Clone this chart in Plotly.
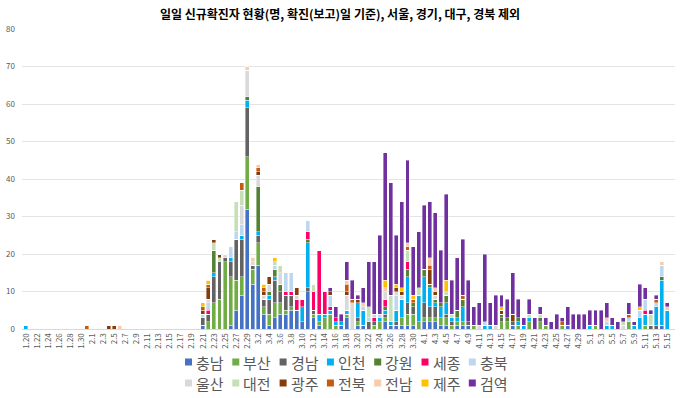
import plotly.graph_objects as go

# ---- dates (1.20 ~ 5.15) ----
dates = (["1.%d" % d for d in range(20, 32)] + ["2.%d" % d for d in range(1, 30)] +
         ["3.%d" % d for d in range(1, 32)] + ["4.%d" % d for d in range(1, 31)] +
         ["5.%d" % d for d in range(1, 16)])

names = ["충남", "부산", "경남", "인천", "강원", "세종", "충북",
         "울산", "대전", "광주", "전북", "전남", "제주", "검역"]
colors = ["#4472C4", "#70AD47", "#636363", "#00B0F0", "#548235", "#FF0066", "#BDD7EE",
          "#D9D9D9", "#C5E0B4", "#843C0C", "#C55A11", "#F8CBAD", "#FFC000", "#7030A0"]

Z10 = [0] * 10
충남 = (Z10 + Z10 + Z10 + [0,0,1,0,0,0,0,1,5,9] + [32,12,17,4,1,3,4,4,5,5] +
       [2,10,3,1,0,0,0,1,3,0] + [1,1,0,0,0,2,1,1,1,1] + [1,0,2,2,2,1,1,0,1,1] +
       [1,0,0,0,0,0,0,0,1,0] + [0,0,0,0,0,0,0,0,1,0] + Z10 + [0,0,0,0,0,1,0])
부산 = (Z10 + Z10 + Z10 + [0,0,0,2,7,8,18,13,8,5] + [14,4,6,2,3,4,3,1,1,0] +
       [0,0,1,1,3,4,1,0,1,0] + [1,0,0,1,2,1,0,0,2,3] + [3,2,1,1,1,2,2,1,1,1] +
       [0,1,0,0,0,0,2,2,0,1] + [0,2,0,2,1,0,0,1,0,0] + [0,0,0,1,0,0,0,0,0,2] +
       [0,0,1,0,0,0,0])
경남 = (Z10 + Z10 + Z10 + [0,0,2,2,7,10,1,4,11,10] + [13,1,2,2,4,6,3,4,3,0] +
       [0,1,1,0,0,0,0,0,0,0] + [1,0,2,1,0,1,0,1,0,3] + [2,0,4,3,3,0,1,1,0,0] +
       [1,0,0,0,0,0,1,0,1,0] + [0,0,0,1,0,0,0,0,0,0] + Z10 + [0,0,0,1,1,0,0])
인천 = ([1,0,0,0,0,0,0,0,0,0] + Z10 + Z10 + [0,0,0,0,1,0,0,1,0,1] + [2,0,1,0,1,1,0,0,0,0] +
       [4,12,0,2,1,1,1,1,1,0] + [4,4,0,0,1,1,1,3,5,7] + [0,7,7,5,1,3,3,1,1,4] +
       [0,0,0,1,1,0,0,0,0,1] + [1,1,0,0,0,0,0,0,0,0] + [0,0,1,0,0,1,1,0,0,0] +
       [1,3,3,0,5,12,5])
강원 = (Z10 + Z10 + Z10 + [0,0,0,0,6,0,0,0,0,0] + [1,0,12,0,1,2,2,0,0,0] +
       [0,1,0,0,0,0,0,0,0,0] + [0,0,0,0,0,1,0,0,0,2] + [1,0,2,1,1,1,2,0,2,2] +
       [0,0,0,0,0,0,1,1,0,1] + Z10 + Z10 + [0,0,0,0,0,1,0])
세종 = (Z10 + Z10 + Z10 + [0,0,0,1,0,0,0,0,0,0] + [0,0,0,0,0,0,0,1,1,3] +
       [2,2,5,17,6,1,1,0,0,0] + [0,0,0,1,0,2,0,0,0,2] + Z10 + Z10 + Z10 + Z10 +
       [0,0,1,0,0,0,0])
충북 = (Z10 + Z10 + Z10 + [0,0,1,2,0,0,0,3,2,3] + [0,0,0,0,0,1,0,5,5,0] +
       [0,3,0,0,0,3,0,0,0,0] + [0,1,1,1,1,0,0,4,0,0] + Z10 +
       [0,0,0,1,0,0,0,0,0,0] + Z10 + [0,0,0,0,0,1,0,0,0,1] + [0,2,3,0,1,3,0])
울산 = (Z10 + Z10 + Z10 + [0,0,0,1,0,0,1,0,0,5] + [7,1,3,1,2,0,3,0,0,1] +
       [0,0,0,0,0,0,0,0,4,7] + [0,0,0,0,0,2,0,1,1,0] + [0,0,0,0,1,0,0,0,0,0] +
       [0,0,1,0,0,1,0,0,0,0] + Z10 + [0,0,0,0,0,0,0,0,1,0] + [0,0,0,0,0,0,0])
대전 = (Z10 + Z10 + Z10 + [0,0,0,0,2,1,0,0,8,4] + [0,0,0,0,0,1,2,0,0,0] +
       [0,0,2,0,0,0,0,0,0,0] + [0,0,3,0,0,0,7,0,0,3] + [0,2,0,0,0,0,1,1,0,0] +
       Z10 + [0,1,0,1,0,0,0,0,0,0] + [0,0,0,0,0,0,0,0,1,0] + [0,0,0,3,0,0,0])
광주 = (Z10 + [0,0,0,0,0,1,1,0,0,0] + Z10 + [0,0,1,3,1,1,0,0,0,0] + [0,0,1,1,2,0,0,0,0,2] +
       [0,0,0,0,0,1,0,0,1,0] + [1,0,0,0,0,0,0,1,1,0] + [0,0,0,4,1,0,0,0,0,0] +
       [0,0,0,0,0,0,1,0,2,0] + Z10 + Z10 + [0,0,0,0,0,0,0])
전북 = (Z10 + [0,1,0,0,0,0,0,0,0,0] + Z10 + [0,0,1,1,0,0,0,0,0,2] + [0,0,1,1,0,0,0,0,0,0] +
       [0,0,0,0,0,0,0,0,2,1] + [0,0,0,0,0,0,0,0,0,1] + [1,0,0,1,0,0,0,0,0,1] +
       Z10 + [0,0,0,0,0,0,0,1,0,0] + [0,0,0,0,0,0,0,0,0,1] + [0,0,0,0,1,0,0])
전남 = (Z10 + [0,0,0,0,0,0,0,1,0,0] + Z10 + Z10 + [1,1,1,0,0,0,0,0,0,0] +
       [0,0,0,0,0,0,0,0,1,0] + [0,1,0,0,0,1,0,0,0,1] + [0,0,0,2,1,0,0,0,0,0] +
       Z10 + Z10 + [0,0,0,0,0,1,0,0,0,0] + [0,0,0,0,0,1,1])
제주 = (Z10 + Z10 + Z10 + [0,0,1,1,0,0,0,0,0,0] + [0,0,0,1,0,1,0,0,0,0] +
       Z10 + [0,0,0,0,0,2,0,1,1,0] + [1,0,0,0,0,0,3,0,0,0] +
       [0,0,0,0,0,0,1,0,0,0] + Z10 + Z10 + [0,1,0,0,0,0,0])
검역 = (Z10 + Z10 + Z10 + Z10 + Z10 + [0,0,0,0,0,1,3,2,5,5] +
       [1,4,12,14,21,34,30,13,23,22] + [13,15,17,15,20,14,23,9,14,15] +
       [11,5,6,18,6,8,3,5,11,5] + [2,4,3,2,2,2,4,1,5,4] + [4,4,4,4,5,4,2,2,1,3] +
       [1,6,3,1,1,0,1])

series = [충남, 부산, 경남, 인천, 강원, 세종, 충북, 울산, 대전, 광주, 전북, 전남, 제주, 검역]

FONT = "Noto Sans CJK KR, Malgun Gothic, sans-serif"
W, H = 680, 398
L, R, T, B = 22, 5, 29, 69
PW, PH = W - L - R, H - T - B

fig = go.Figure()
for name, col, vals in zip(names, colors, series):
    fig.add_trace(go.Bar(x=dates, y=vals, name=name, marker=dict(color=col, line=dict(width=0.4, color="white")),
                         showlegend=False))

# legend drawn as squares + labels, two rows of seven
for k, (name, col) in enumerate(zip(names, colors)):
    row, c = divmod(k, 7)
    sx = 185 + c * 47.3
    cy = 362 + row * 21
    fig.add_shape(type="rect", xref="paper", yref="paper",
                  x0=(sx - L) / PW, x1=(sx + 7 - L) / PW,
                  y0=(H - B - (cy + 3.5)) / PH, y1=(H - B - (cy - 3.5)) / PH,
                  fillcolor=col, line=dict(width=0))
    fig.add_annotation(xref="paper", yref="paper", x=(sx + 9 - L) / PW, y=(H - B - cy) / PH,
                       text=name, showarrow=False, xanchor="left", yanchor="middle",
                       font=dict(family=FONT, size=15, color="#595959"))

fig.update_layout(
    width=W, height=H, barmode="stack", bargap=0.28,
    margin=dict(l=L, r=R, t=T, b=B, autoexpand=False),
    paper_bgcolor="white", plot_bgcolor="white",
    title=dict(text="<b>일일 신규확진자 현황(명, 확진(보고)일 기준), 서울, 경기, 대구, 경북 제외</b>",
               x=0.5, xref="container", xanchor="center", y=1 - 15 / H, yref="container", yanchor="middle",
               font=dict(family=FONT, size=12, color="#000000")),
    font=dict(family=FONT, color="#595959"),
)
fig.update_xaxes(type="category", categoryorder="array", categoryarray=dates,
                 range=[-0.72, 117.38], tickmode="array", tickvals=dates[::2], ticktext=dates[::2],
                 tickangle=-90, tickfont=dict(size=8, color="#595959"), showgrid=False,
                 showline=True, linecolor="#D9D9D9", linewidth=1, ticks="", automargin=False)
fig.update_yaxes(range=[0, 80], dtick=10, showgrid=True, gridcolor="#E4E4E4", gridwidth=1,
                 zeroline=False, showline=False, tickfont=dict(size=8, color="#595959"),
                 ticklabelstandoff=6, automargin=False)

fig.write_html("out.html", config={"displayModeBar": False},
               post_script="document.body.style.margin='0';document.body.style.overflow='hidden';")
